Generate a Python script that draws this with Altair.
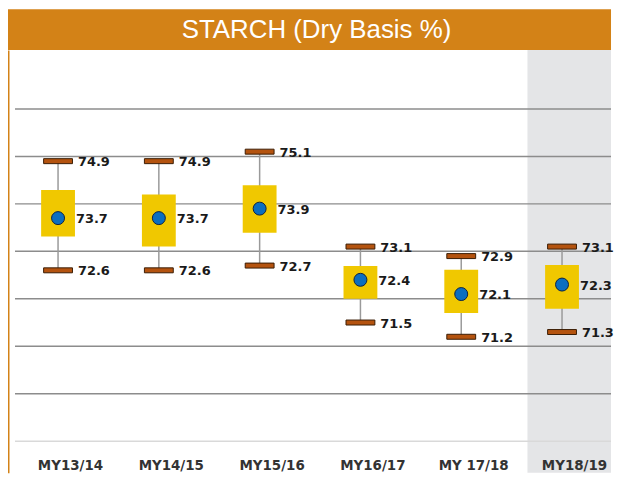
import json
import altair as alt
import pandas as pd

# ---- data ----
categories = ["MY13/14", "MY14/15", "MY15/16", "MY16/17", "MY 17/18", "MY18/19"]
mean_vals = [73.7, 73.7, 73.9, 72.4, 72.1, 72.3]
max_vals = [74.9, 74.9, 75.1, 73.1, 72.9, 73.1]
min_vals = [72.6, 72.6, 72.7, 71.5, 71.2, 71.3]
box_hi = [74.29, 74.20, 74.39, 72.69, 72.61, 72.71]
box_lo = [73.31, 73.10, 73.39, 72.00, 71.70, 71.79]
grid_vals = [69, 70, 71, 72, 73, 74, 75, 76]
TITLE = "STARCH (Dry Basis %)"

# ---- layout / style constants ----
W, H, TITLE_H = 606, 425, 41
X_DOMAIN = [-0.4965, 5.486]
Y_DOMAIN = [68.333, 77.243]
SHADE_FROM = 4.657
GRID_X0, GRID_X1 = -0.427, 5.486

ORANGE = "#D38217"
SHADE = "#E4E5E7"
YELLOW = "#F0C800"
CAP_FILL = "#B4530F"
CAP_STROKE = "#3A1D05"
DOT_FILL = "#0B6EBF"
DOT_STROKE = "#0D2340"
LABEL_FONT = "DejaVu Sans"
AXIS_FONT = "Liberation Sans Narrow, DejaVu Sans Condensed, Roboto"

idx = list(range(len(categories)))
df = pd.DataFrame({
    "i": idx, "cat": categories, "mean": mean_vals, "max": max_vals,
    "min": min_vals, "hi": box_hi, "lo": box_lo,
})
caps = pd.DataFrame({
    "i": idx + idx,
    "v": max_vals + min_vals,
})
grid = pd.DataFrame({
    "g": grid_vals,
    "x0": [GRID_X0] * len(grid_vals),
    "x1": [GRID_X1] * len(grid_vals),
    "c": ["#D9D9D9"] + ["#8C8C8C"] * (len(grid_vals) - 1),
})
shade = pd.DataFrame({"x0": [SHADE_FROM], "x1": [X_DOMAIN[1]],
                      "y0": [Y_DOMAIN[0]], "y1": [Y_DOMAIN[1]]})

label_expr = json.dumps(categories) + "[datum.value]"

xs = alt.Scale(domain=X_DOMAIN, nice=False, zero=False, padding=0)
ys = alt.Scale(domain=Y_DOMAIN, nice=False, zero=False, padding=0)

x_axis = alt.Axis(values=idx, labelExpr=label_expr, domain=False, ticks=False,
                  tickSize=0, grid=False, labelPadding=-15, labelOffset=12,
                  labelFont=AXIS_FONT, labelFontSize=15, labelFontWeight="bold",
                  labelColor="#333333", labelFlush=False, labelOverlap=False,
                  labelBound=False, title=None, zindex=1)
y_axis = alt.Axis(labels=False, ticks=False, grid=False, domain=True,
                  domainColor=ORANGE, domainWidth=2, title=None, zindex=1)

base = alt.Chart(df)

shade_layer = alt.Chart(shade).mark_rect(color=SHADE).encode(
    x=alt.X("x0:Q", scale=xs, axis=x_axis),
    x2="x1:Q",
    y=alt.Y("y0:Q", scale=ys, axis=y_axis),
    y2="y1:Q",
)

grid_layer = alt.Chart(grid).mark_rule(strokeWidth=1.5).encode(
    x=alt.X("x0:Q", scale=xs), x2="x1:Q",
    y=alt.Y("g:Q", scale=ys),
    color=alt.Color("c:N", scale=None),
)

whisker = base.mark_rule(color="#9A9A9A", strokeWidth=1.5).encode(
    x=alt.X("i:Q", scale=xs), y=alt.Y("min:Q", scale=ys), y2="max:Q")

boxes = base.mark_bar(size=34, color=YELLOW, orient="vertical").encode(
    x=alt.X("i:Q", scale=xs), y=alt.Y("lo:Q", scale=ys), y2="hi:Q")

cap_layer = alt.Chart(caps).mark_tick(
    orient="horizontal", size=29, thickness=5, fill=CAP_FILL,
    stroke=CAP_STROKE, strokeWidth=1, opacity=1, fillOpacity=1,
).encode(x=alt.X("i:Q", scale=xs), y=alt.Y("v:Q", scale=ys))

dots = base.mark_point(filled=True, size=170, shape="circle", fill=DOT_FILL,
                       stroke=DOT_STROKE, strokeWidth=1, opacity=1).encode(
    x=alt.X("i:Q", scale=xs), y=alt.Y("mean:Q", scale=ys))

cap_labels = alt.Chart(caps).mark_text(
    align="left", baseline="middle", dx=20, dy=1, font=LABEL_FONT,
    fontSize=13, fontWeight="bold", color="#1A1A1A",
).encode(x=alt.X("i:Q", scale=xs), y=alt.Y("v:Q", scale=ys),
         text=alt.Text("v:Q", format=".1f"))

mean_labels = base.mark_text(
    align="left", baseline="middle", dx=18, dy=1, font=LABEL_FONT,
    fontSize=13, fontWeight="bold", color="#1A1A1A",
).encode(x=alt.X("i:Q", scale=xs), y=alt.Y("mean:Q", scale=ys),
         text=alt.Text("mean:Q", format=".1f"))

main = alt.layer(
    shade_layer, grid_layer, whisker, boxes, cap_layer, dots, cap_labels, mean_labels
).properties(width=W, height=H, view=alt.ViewBackground(fill="white", stroke=None))

title_panel = alt.Chart(pd.DataFrame({"t": [TITLE]})).mark_text(
    align="center", baseline="middle", font="Liberation Sans", fontSize=26,
    color="white",
).encode(text="t:N", x=alt.value(310), y=alt.value(21)).properties(
    width=W, height=TITLE_H, view=alt.ViewBackground(fill=ORANGE, stroke=None))

chart = alt.vconcat(title_panel, main, spacing=0).properties(
    padding=0, background="white"
).configure_view(stroke=None)

chart.save("out.html", embed_options={"renderer": "svg", "actions": False})
